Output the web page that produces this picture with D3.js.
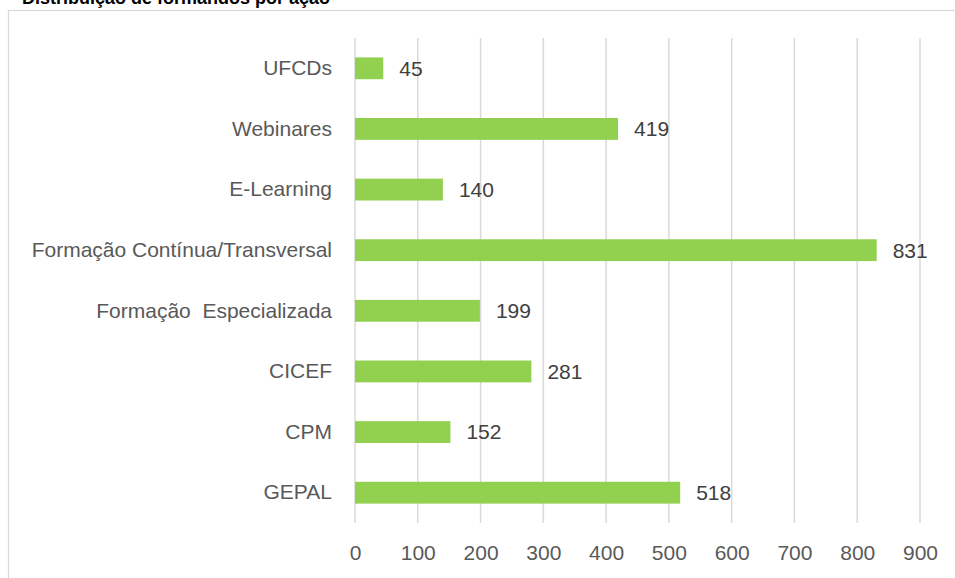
<!DOCTYPE html>
<html><head><meta charset="utf-8">
<script src="https://cdn.jsdelivr.net/npm/d3@7"></script>
<style>body{margin:0;background:#fff;overflow:hidden}svg{display:block}</style>
</head><body>
<svg id="c" width="955" height="578"></svg>
<script>
const categories = ["UFCDs","Webinares","E-Learning","Formação Contínua/Transversal","Formação  Especializada","CICEF","CPM","GEPAL"];
const values = [45,419,140,831,199,281,152,518];
const ticks = [0,100,200,300,400,500,600,700,800,900];
const title = "Distribuição de formandos por ação";

const svg = d3.select("#c");
const font = "'Liberation Sans', Arial, sans-serif";

// chart border
svg.append("rect").attr("x",8.5).attr("y",10.5).attr("width",960).attr("height",580)
  .attr("fill","#fff").attr("stroke","#d9d9d9").attr("stroke-width",1.2);

// title (cropped at top, as in the reference)
svg.append("text").attr("x",22).attr("y",4).attr("font-family",font).attr("font-weight","bold")
  .attr("font-size",18).attr("fill","#000").text(title);

const x = d3.scaleLinear().domain([0,900]).range([355,920]);
const y = d3.scaleBand().domain(categories).range([38,523]).paddingInner(0.64).paddingOuter(0.32);

// gridlines
svg.append("g").selectAll("line").data(ticks).join("line")
  .attr("x1",d=>x(d)).attr("x2",d=>x(d)).attr("y1",38).attr("y2",523)
  .attr("stroke","#d9d9d9").attr("stroke-width",1.5);

// x axis labels
const xa = svg.append("g").attr("transform","translate(0,523)")
  .call(d3.axisBottom(x).tickValues(ticks).tickSize(0).tickPadding(22));
xa.select(".domain").remove();
xa.selectAll("text").attr("font-family",font).attr("font-size",21).attr("fill","#595959").attr("dy","0.71em");

// y axis labels
const ya = svg.append("g").attr("transform","translate(355,0)")
  .call(d3.axisLeft(y).tickSize(0).tickPadding(23));
ya.select(".domain").remove();
ya.selectAll("text").attr("font-family",font).attr("font-size",21).attr("fill","#595959").style("white-space","pre");

const data = categories.map((c,i)=>({c,v:values[i]}));
svg.append("g").selectAll("rect").data(data).join("rect")
  .attr("x",x(0)).attr("y",d=>y(d.c)).attr("width",d=>x(d.v)-x(0)).attr("height",y.bandwidth())
  .attr("fill","#92d050");

svg.append("g").selectAll("text").data(data).join("text")
  .attr("x",d=>x(d.v)+16).attr("y",d=>y(d.c)+y.bandwidth()/2).attr("dy","0.35em")
  .attr("font-family",font).attr("font-size",21).attr("fill","#404040").text(d=>d.v);
</script>
</body></html>
